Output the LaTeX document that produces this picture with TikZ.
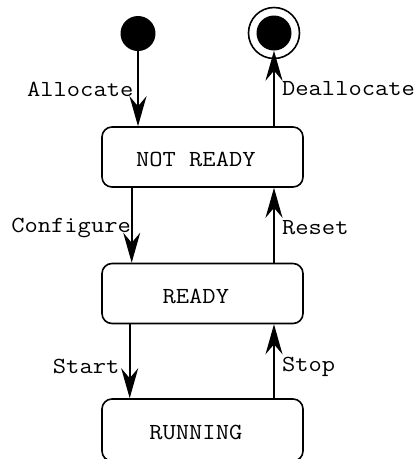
\documentclass[tikz,border=0pt]{standalone}
\usetikzlibrary{arrows.meta}

% Courier-like lettering: Latin Modern Mono, widened to Courier proportions
\newcommand\monotext[1]{\scalebox{1.12}[1]{\fontsize{23}{27}\selectfont\ttfamily #1}}

\tikzset{
  statebox/.style={draw, line width=1.6pt, rounded corners=10pt,
    minimum width=201pt, minimum height=60pt, inner sep=0pt,
    text height=19pt, text depth=0pt},
  pseudo/.style={circle, fill=black, inner sep=0pt, minimum size=35pt},
  ring/.style={circle, draw, line width=1.6pt, inner sep=0pt, minimum size=51pt},
  trans/.style={line width=1.6pt, -{Stealth[length=30pt,width=17pt,inset=10pt]}},
  tlabel/.style={inner sep=0pt}
}

\begin{document}
\begin{tikzpicture}[x=1pt,y=-1pt]
  \useasboundingbox (0,0) rectangle (420,459);

  % initial and final pseudo-states
  \node[pseudo] (init) at (138,33.5) {};
  \node[ring] (finring) at (274,33) {};
  \node[pseudo] (fin) at (274,33) {};

  % states (trailing space keeps the name left of centre)
  \node[statebox] (notready) at (202.5,157) {\monotext{NOT READY\ }};
  \node[statebox] (ready) at (202.5,293.5) {\monotext{READY\ }};
  \node[statebox, minimum height=62pt] (running) at (202.5,430) {\monotext{RUNNING\ }};

  % transitions
  \draw[trans] (init.south) -- (notready.north -| init);
  \draw[trans] (notready.north -| fin) -- (fin.south);
  \draw[trans] ([xshift=30.5pt]notready.south west) -- ([xshift=30.5pt]ready.north west);
  \draw[trans] (ready.north -| fin) -- (notready.south -| fin);
  \draw[trans] ([xshift=28.5pt]ready.south west) -- ([xshift=28.5pt]running.north west);
  \draw[trans] (running.north -| fin) -- (ready.south -| fin);

  % transition labels
  \node[tlabel, anchor=base east] (lalloc) at (133.5,96) {\monotext{Allocate}};
  \node[tlabel, anchor=base west] (ldealloc) at (282,95) {\monotext{Deallocate}};
  \node[tlabel, anchor=base east] (lconf) at (131,232) {\monotext{Configure}};
  \node[tlabel, anchor=base west] (lreset) at (282,234) {\monotext{Reset}};
  \node[tlabel, anchor=base east] (lstart) at (119.5,373) {\monotext{Start}};
  \node[tlabel, anchor=base west] (lstop) at (282,371) {\monotext{Stop}};
\end{tikzpicture}
\end{document}
